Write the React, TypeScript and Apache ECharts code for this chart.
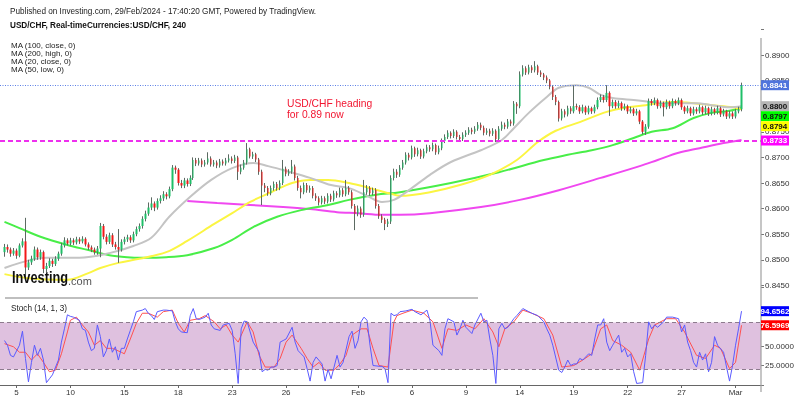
import React, { useEffect, useRef } from "react";
import * as echarts from "echarts";

// ---------- DATA (prices in 1/10000 units, i.e. 8515 = 0.8515) ----------
// 4h candles, first candle sits in slot 1 of the time axis
const candleOpen = [
  8515,8525,8520,8512,8518,8508,8528,8536,8485,8495,
  8502,8520,8505,8515,8482,8488,8498,8492,8502,8512,
  8528,8538,8532,8538,8534,8540,8536,8541,8530,8524,
  8520,8515,8522,8566,8545,8535,8548,8530,8525,8520,
  8535,8540,8544,8538,8550,8560,8566,8580,8590,8602,
  8610,8602,8615,8620,8628,8624,8638,8680,8676,8650,
  8645,8655,8648,8660,8695,8688,8694,8686,8690,8698,
  8686,8690,8684,8692,8688,8694,8698,8693,8700,8672,
  8680,8690,8716,8702,8706,8696,8672,8645,8640,8630,
  8640,8648,8640,8650,8678,8668,8672,8682,8660,8640,
  8632,8646,8636,8640,8625,8620,8612,8620,8614,8625,
  8618,8630,8626,8636,8628,8640,8632,8605,8590,8600,
  8588,8632,8640,8630,8636,8605,8585,8578,8570,8575,
  8660,8672,8666,8680,8690,8705,8700,8718,8706,8714,
  8702,8712,8720,8716,8724,8710,8718,8732,8740,8748,
  8742,8750,8740,8736,8744,8748,8754,8750,8756,8764,
  8758,8748,8752,8746,8752,8736,8756,8764,8760,8770,
  8766,8805,8800,8862,8874,8866,8876,8870,8878,8866,
  8862,8856,8850,8838,8818,8808,8776,8790,8784,8796,
  8790,8800,8798,8790,8798,8788,8796,8790,8798,8812,
  8818,8812,8826,8800,8808,8800,8806,8796,8800,8790,
  8794,8786,8790,8770,8750,8760,8810,8806,8812,8800,
  8806,8798,8808,8800,8810,8806,8812,8798,8790,8796,
  8786,8794,8790,8798,8788,8796,8786,8794,8788,8796,
  8784,8790,8780,8786,8780,8790,8794
];
const candleClose = [
  8525,8520,8512,8518,8508,8528,8536,8485,8495,8502,
  8520,8505,8515,8482,8488,8498,8492,8502,8512,8528,
  8538,8532,8538,8534,8540,8536,8541,8530,8524,8520,
  8515,8522,8566,8545,8535,8548,8530,8525,8520,8535,
  8540,8544,8538,8550,8560,8566,8580,8590,8602,8610,
  8602,8615,8620,8628,8624,8638,8680,8676,8650,8645,
  8655,8648,8660,8695,8688,8694,8686,8690,8698,8686,
  8690,8684,8692,8688,8694,8698,8693,8700,8672,8680,
  8690,8716,8702,8706,8696,8672,8645,8640,8630,8640,
  8648,8640,8650,8678,8668,8672,8682,8660,8640,8632,
  8646,8636,8640,8625,8620,8612,8620,8614,8625,8618,
  8630,8626,8636,8628,8640,8632,8605,8590,8600,8588,
  8632,8640,8630,8636,8605,8585,8578,8570,8575,8660,
  8672,8666,8680,8690,8705,8700,8718,8706,8714,8702,
  8712,8720,8716,8724,8710,8718,8732,8740,8748,8742,
  8750,8740,8736,8744,8748,8754,8750,8756,8764,8758,
  8748,8752,8746,8752,8736,8756,8764,8760,8770,8766,
  8805,8800,8862,8874,8866,8876,8870,8878,8866,8862,
  8856,8850,8838,8818,8808,8776,8790,8784,8796,8790,
  8800,8798,8790,8798,8788,8796,8790,8798,8812,8818,
  8812,8826,8800,8808,8800,8806,8796,8800,8790,8794,
  8786,8790,8770,8750,8760,8810,8806,8812,8800,8806,
  8798,8808,8800,8810,8806,8812,8798,8790,8796,8786,
  8794,8790,8798,8788,8796,8786,8794,8788,8796,8784,
  8790,8780,8786,8780,8790,8794,8841
];
const candleHigh = [
  8531,8530,8524,8523,8522,8532,8542,8582,8500,8508,
  8526,8524,8520,8518,8494,8503,8502,8507,8516,8533,
  8544,8542,8543,8542,8545,8544,8546,8544,8534,8528,
  8524,8527,8572,8570,8550,8553,8552,8535,8560,8540,
  8545,8549,8548,8555,8565,8571,8585,8596,8612,8622,
  8614,8620,8626,8634,8632,8643,8685,8684,8679,8656,
  8660,8659,8665,8700,8699,8699,8698,8695,8710,8702,
  8695,8694,8697,8696,8699,8706,8702,8705,8703,8686,
  8695,8728,8719,8711,8709,8699,8676,8650,8644,8645,
  8653,8652,8655,8695,8682,8677,8695,8686,8664,8645,
  8651,8650,8645,8644,8630,8624,8625,8624,8630,8629,
  8635,8634,8641,8640,8656,8644,8636,8609,8606,8604,
  8656,8646,8644,8641,8640,8609,8589,8582,8580,8665,
  8678,8677,8685,8695,8710,8709,8723,8721,8719,8717,
  8717,8725,8724,8729,8727,8723,8737,8745,8753,8751,
  8755,8753,8744,8749,8753,8759,8758,8761,8769,8768,
  8762,8757,8756,8757,8755,8761,8770,8768,8775,8774,
  8810,8808,8868,8880,8878,8881,8880,8888,8881,8870,
  8865,8860,8853,8841,8822,8811,8795,8794,8801,8800,
  8841,8805,8802,8803,8801,8801,8799,8803,8817,8823,
  8822,8841,8829,8813,8812,8811,8809,8805,8803,8799,
  8797,8795,8793,8773,8765,8815,8814,8817,8815,8811,
  8809,8813,8811,8815,8813,8817,8815,8801,8801,8799,
  8799,8798,8803,8801,8801,8799,8799,8797,8801,8799,
  8795,8793,8791,8790,8795,8799,8846
];
const candleLow = [
  8506,8514,8506,8508,8502,8505,8524,8465,8480,8490,
  8498,8500,8500,8474,8476,8484,8486,8488,8498,8508,
  8524,8528,8528,8529,8530,8531,8532,8526,8519,8515,
  8510,8510,8505,8540,8530,8531,8525,8520,8494,8516,
  8530,8535,8533,8534,8546,8555,8561,8575,8586,8597,
  8595,8598,8610,8615,8618,8620,8634,8668,8645,8640,
  8640,8643,8644,8656,8683,8684,8681,8682,8686,8682,
  8682,8679,8680,8684,8684,8690,8688,8689,8656,8667,
  8676,8686,8698,8697,8691,8666,8607,8632,8625,8626,
  8635,8635,8636,8646,8663,8664,8668,8655,8635,8620,
  8628,8631,8631,8620,8615,8606,8608,8609,8610,8613,
  8614,8621,8622,8623,8624,8627,8600,8558,8585,8582,
  8584,8627,8625,8626,8600,8580,8572,8558,8564,8570,
  8655,8660,8662,8676,8686,8694,8696,8701,8702,8697,
  8698,8708,8711,8712,8705,8706,8714,8728,8736,8737,
  8738,8735,8731,8732,8740,8744,8745,8746,8752,8753,
  8743,8744,8741,8742,8730,8732,8752,8755,8756,8761,
  8762,8785,8796,8858,8861,8862,8865,8866,8861,8857,
  8851,8845,8833,8812,8802,8770,8772,8778,8780,8785,
  8786,8793,8785,8786,8783,8784,8785,8786,8794,8808,
  8807,8808,8781,8796,8795,8796,8791,8792,8785,8786,
  8781,8782,8765,8745,8744,8756,8801,8802,8795,8796,
  8780,8794,8795,8796,8801,8802,8793,8785,8786,8781,
  8782,8785,8786,8783,8784,8781,8782,8783,8784,8779,
  8780,8775,8776,8775,8776,8786,8790
];

// moving averages: [slot, value x1e4]
const ma20Close = [[1,8484],[15,8504],[26,8504],[36,8513],[44,8527],[50,8543],[56,8584],[63,8623],[70,8656],[77,8679],[84,8689],[89,8683],[96,8672],[103,8660],[110,8646],[116,8640],[122,8625],[127,8613],[131,8617],[136,8636],[143,8666],[150,8691],[160,8714],[167,8734],[171,8757],[176,8787],[182,8818],[186,8836],[192,8841],[196,8836],[200,8822],[204,8816],[211,8812],[222,8806],[232,8806],[237,8802],[243,8798],[247,8800]];
const ma50Low = [[1,8472],[9,8464],[22,8461],[29,8474],[33,8484],[39,8494],[46,8502],[55,8515],[62,8537],[71,8570],[77,8591],[83,8613],[90,8632],[97,8650],[103,8656],[109,8656],[116,8650],[123,8640],[130,8629],[133,8625],[143,8632],[153,8646],[163,8666],[172,8695],[179,8730],[185,8752],[193,8769],[202,8789],[209,8798],[215,8802],[223,8808],[231,8806],[237,8802],[244,8798],[247,8794]];
const ma100Close = [[1,8574],[6,8562],[13,8545],[22,8529],[29,8519],[36,8509],[42,8505],[47,8504],[55,8505],[62,8509],[71,8523],[77,8539],[84,8564],[92,8584],[100,8597],[109,8607],[116,8617],[125,8627],[133,8632],[150,8650],[166,8671],[181,8695],[189,8705],[197,8714],[204,8724],[211,8738],[217,8750],[224,8757],[231,8777],[237,8787],[243,8791],[247,8797]];
const ma200High = [[62,8615],[72,8611],[83,8607],[94,8603],[103,8599],[112,8593],[119,8591],[127,8588],[133,8588],[143,8591],[160,8603],[173,8617],[186,8636],[200,8660],[213,8683],[219,8695],[226,8709],[233,8718],[241,8728],[247,8734]];

// Stochastic (14,1,3): [slot, value]
const stochK = [[1,57],[2,51],[3,38],[4,36],[6,51],[7,69],[8,34],[9,4],[10,29],[11,51],[12,38],[13,47],[14,32],[15,3],[16,8],[17,13],[19,32],[20,55],[21,72],[22,90],[23,88],[24,87],[26,83],[27,72],[28,70],[29,55],[30,44],[31,47],[32,77],[33,62],[34,36],[35,44],[36,59],[37,42],[38,49],[39,32],[40,47],[41,47],[42,59],[43,70],[44,81],[45,94],[47,96],[48,98],[49,92],[50,89],[51,84],[52,94],[54,96],[55,96],[57,95],[58,81],[59,72],[60,68],[62,67],[63,89],[64,98],[65,85],[66,84],[68,87],[69,92],[70,77],[71,72],[73,70],[74,77],[76,79],[77,70],[78,40],[79,2],[80,72],[81,82],[82,81],[83,68],[84,55],[86,42],[87,17],[88,20],[89,19],[90,23],[91,23],[92,25],[93,55],[94,57],[95,59],[97,74],[98,55],[99,44],[100,40],[101,36],[102,21],[103,5],[104,29],[105,36],[107,27],[108,5],[109,20],[110,8],[111,23],[112,38],[113,23],[114,29],[116,62],[117,69],[118,47],[119,57],[120,81],[121,87],[122,83],[123,51],[124,25],[126,24],[127,24],[128,21],[129,3],[130,92],[131,89],[132,90],[133,94],[135,95],[137,97],[138,94],[140,90],[142,96],[143,83],[144,51],[146,44],[147,38],[148,72],[149,85],[151,81],[152,64],[153,72],[154,83],[155,74],[157,66],[158,77],[160,92],[161,81],[162,83],[163,59],[164,38],[165,2],[166,72],[167,79],[168,72],[169,74],[171,85],[172,89],[174,98],[176,94],[177,92],[179,89],[181,81],[182,72],[183,64],[184,51],[186,19],[187,16],[188,23],[189,32],[190,25],[191,27],[192,27],[193,34],[194,32],[196,40],[197,38],[198,59],[199,77],[200,77],[201,85],[202,55],[203,44],[204,51],[206,64],[207,42],[208,47],[209,36],[210,40],[211,17],[212,2],[214,3],[215,38],[216,81],[217,72],[218,77],[219,74],[221,81],[222,87],[224,87],[226,85],[227,68],[228,77],[229,55],[230,44],[231,29],[232,23],[233,42],[234,32],[235,40],[236,17],[237,29],[238,62],[239,51],[241,42],[242,23],[243,5],[244,25],[245,51],[246,72],[247,94.6562]];
const stochD = [[1,53],[4,49],[6,42],[8,42],[10,32],[12,40],[14,29],[16,17],[18,19],[20,40],[22,68],[23,83],[25,87],[27,77],[29,68],[31,51],[33,57],[35,47],[37,47],[40,42],[41,40],[43,59],[45,79],[47,92],[49,92],[52,87],[54,94],[57,96],[59,79],[61,68],[63,83],[66,85],[68,89],[71,81],[73,72],[75,77],[77,64],[79,55],[82,81],[84,68],[86,38],[88,23],[91,23],[93,34],[95,55],[97,64],[100,47],[102,34],[104,23],[106,29],[108,19],[111,19],[113,27],[115,38],[117,64],[120,72],[122,72],[124,47],[126,25],[129,23],[131,81],[132,89],[134,92],[137,96],[141,92],[144,81],[147,47],[149,72],[152,70],[155,77],[158,72],[161,85],[164,68],[166,49],[168,72],[171,81],[174,96],[177,92],[181,85],[184,64],[187,23],[191,25],[194,32],[197,40],[200,72],[202,77],[204,57],[207,51],[210,42],[213,19],[216,59],[218,77],[222,85],[225,85],[228,68],[232,38],[235,34],[238,51],[240,47],[243,21],[245,29],[247,76.5969]];

const tickSlots = [5, 23, 41, 59, 77, 95, 119, 137, 155, 173, 191, 209, 227, 245];
const tickLabels = ["5", "10", "15", "18", "23", "26", "Feb", "6", "9", "14", "19", "22", "27", "Mar"];

const lastPrice = 0.8841;
const ma200Last = 0.8733;
const priceTagValues = [0.8841, 0.88, 0.8797, 0.8794, 0.8733];
const priceTagFills = ["#4f74dc", "#b5b5b5", "#00ff00", "#ffff00", "#ff00ff"];
const priceTagInk = ["#ffffff", "#111111", "#111111", "#111111", "#ffffff"];
const stochTagValues = [94.6562, 76.5969];
const stochTagFills = ["#0000ff", "#ff0000"];
// axis labels fully hidden behind value tags in the reference
const hiddenPriceLabels = [0.88];
const hiddenStochLabels = [75, 100];

const maLegend = ["MA (100, close, 0)", "MA (200, high, 0)", "MA (20, close, 0)", "MA (50, low, 0)"];

const SLOTS = 254;
const FIRST_SLOT = 1;
const FONT = '"Liberation Sans", Arial, sans-serif';

export default function App() {
  const ref = useRef<HTMLDivElement>(null);

  useEffect(() => {
    const chart = echarts.init(ref.current!, null, { renderer: "svg" });
    const slots = Array.from({ length: SLOTS }, (_, i) => String(i));
    const wick: any[] = [];
    const body: any[] = [];
    for (let s = 0; s < SLOTS; s++) {
      const k = s - FIRST_SLOT;
      if (k >= 0 && k < candleOpen.length) {
        const o = candleOpen[k] / 1e4, c = candleClose[k] / 1e4;
        const l = candleLow[k] / 1e4, h = candleHigh[k] / 1e4;
        wick.push([o, c, l, h]);
        body.push([o, c, Math.min(o, c), Math.max(o, c)]);
      } else {
        wick.push("-");
        body.push("-");
      }
    }
    const pip = (arr: number[][]) => arr.map(([i, v]) => [i, v / 1e4]);
    const tickSet = new Set(tickSlots);
    const labelOf: Record<number, string> = {};
    tickSlots.forEach((s, i) => (labelOf[s] = tickLabels[i]));

    const maLine = (data: number[][], color: string) => ({
      type: "line", xAxisIndex: 0, yAxisIndex: 0, data: pip(data), showSymbol: false,
      smooth: 0.35, silent: true, z: 2, lineStyle: { color, width: 2 },
    });

    const upC = "#1fbf68", downC = "#f21818", wickC = "#5c6a62";

    chart.setOption({
      animation: false,
      grid: [
        { left: 0, top: 29.4, width: 761, height: 281.6, containLabel: false, outerBoundsMode: "none" },
        { left: 0, top: 287.5, width: 761, height: 97.5, containLabel: false, outerBoundsMode: "none" },
      ],
      xAxis: [
        { type: "category", gridIndex: 0, data: slots, show: false },
        {
          type: "category", gridIndex: 1, data: slots,
          axisLine: { show: true, lineStyle: { color: "#666", width: 1 } },
          axisTick: { show: true, alignWithLabel: true, length: 3, interval: (i: number) => tickSet.has(i), lineStyle: { color: "#666" } },
          axisLabel: {
            interval: (i: number) => tickSet.has(i), formatter: (_v: string, i: number) => labelOf[i] || "",
            color: "#333", fontSize: 8, fontFamily: FONT, margin: 3,
          },
          splitLine: { show: false },
        },
      ],
      yAxis: [
        {
          type: "value", gridIndex: 0, position: "right", min: 0.84, max: 0.895, interval: 0.005,
          axisLine: { show: false }, splitLine: { show: false },
          axisTick: { show: true, length: 3, lineStyle: { color: "#777" } },
          axisLabel: {
            color: "#333", fontSize: 8, fontFamily: FONT, margin: 4,
            formatter: (v: number) => {
              const r = Math.round(v * 1e4) / 1e4;
              if (hiddenPriceLabels.some((h) => Math.abs(h - r) < 1e-6)) return "";
              return r < 0.8449 || r > 0.8901 ? "" : r.toFixed(4);
            },
          },
        },
        {
          type: "value", gridIndex: 1, position: "right", min: 0, max: 125, interval: 25,
          axisLine: { show: false }, splitLine: { show: false },
          axisTick: { show: true, length: 3, lineStyle: { color: "#777" } },
          axisLabel: {
            color: "#333", fontSize: 8, fontFamily: FONT, margin: 4,
            formatter: (v: number) => (v > 0 && v < 125 && !hiddenStochLabels.includes(v) ? v.toFixed(4) : ""),
          },
        },
      ],
      series: [
        {
          type: "line", xAxisIndex: 0, yAxisIndex: 0, data: [], silent: true, z: 1,
          markLine: {
            silent: true, symbol: "none", precision: 4, label: { show: false },
            data: [
              { yAxis: lastPrice, lineStyle: { color: "#5b7fe6", width: 1, type: [1, 1.5] } },
              { yAxis: ma200Last, lineStyle: { color: "#ee30ee", width: 2, type: [5, 3] } },
            ],
          },
        },
        maLine(ma200High, "#f048f0"),
        maLine(ma100Close, "#48ee48"),
        maLine(ma50Low, "#fbf542"),
        maLine(ma20Close, "#c4c4c4"),
        {
          type: "candlestick", xAxisIndex: 0, yAxisIndex: 0, data: wick, barWidth: 1, silent: true, z: 3,
          itemStyle: { color: wickC, color0: wickC, borderColor: wickC, borderColor0: wickC, borderColorDoji: wickC, borderWidth: 1 },
        },
        {
          type: "candlestick", xAxisIndex: 0, yAxisIndex: 0, data: body, barWidth: 2, silent: true, z: 4,
          itemStyle: { color: upC, color0: downC, borderColor: upC, borderColor0: downC, borderColorDoji: wickC, borderWidth: 0 },
        },
        {
          type: "line", xAxisIndex: 1, yAxisIndex: 1, data: [], silent: true, z: 1,
          markArea: { silent: true, itemStyle: { color: "#dfc1df" }, data: [[{ yAxis: 20 }, { yAxis: 80 }]] },
          markLine: {
            silent: true, symbol: "none", precision: 4, label: { show: false },
            lineStyle: { color: "#8d7b8d", width: 1, type: [4, 3] },
            data: [{ yAxis: 20 }, { yAxis: 80 }],
          },
        },
        {
          type: "line", xAxisIndex: 1, yAxisIndex: 1, data: stochD, showSymbol: false, silent: true, z: 3,
          lineStyle: { color: "#ff5050", width: 1 },
        },
        {
          type: "line", xAxisIndex: 1, yAxisIndex: 1, data: stochK, showSymbol: false, silent: true, z: 4,
          lineStyle: { color: "#5a5aff", width: 1 },
        },
      ],
    });

    const text = (x: number, y: number, t: string, font: string, fill: string, extra: any = {}) => ({
      type: "text", x, y, silent: true, z: 100, ...extra,
      style: { text: t, font, fill },
    });
    const g: any[] = [];
    g.push(text(10, 7, "Published on Investing.com, 29/Feb/2024 - 17:40:20 GMT, Powered by TradingView.", `8.2px ${FONT}`, "#222"));
    g.push(text(10, 21, "USD/CHF, Real-timeCurrencies:USD/CHF, 240", `bold 8.2px ${FONT}`, "#111"));
    maLegend.forEach((t, i) => g.push(text(11, 41 + i * 8.3, t, `8px ${FONT}`, "#222")));
    g.push(text(287, 98, "USD/CHF heading", `10.3px ${FONT}`, "#f21530"));
    g.push(text(287, 109, "for 0.89 now", `10.3px ${FONT}`, "#f21530"));
    g.push(text(12, 269, "Investing", `bold 16px ${FONT}`, "#111", { scaleX: 0.8 }));
    g.push(text(68, 275, ".com", `11px ${FONT}`, "#555"));
    g.push(text(11, 304, "Stoch (14, 1, 3)", `8.2px ${FONT}`, "#222"));
    g.push({ type: "line", silent: true, z: 90, shape: { x1: 5, y1: 298, x2: 478, y2: 298 }, style: { stroke: "#808080", lineWidth: 1.2 } });
    g.push({ type: "line", silent: true, z: 90, shape: { x1: 761, y1: 38, x2: 761, y2: 392 }, style: { stroke: "#a0a0a0", lineWidth: 1.2 } });

    const tags = (values: number[], fills: string[], ink: string[], axis: number) => {
      const items = values.map((v, i) => ({
        v, i, y: (chart.convertToPixel({ yAxisIndex: axis } as any, v) as unknown) as number,
      }));
      items.sort((a, b) => a.y - b.y);
      let prev = -1e9;
      items.forEach((it) => {
        const y = Math.max(it.y, prev + 10);
        prev = y;
        g.push({ type: "rect", silent: true, z: 110, shape: { x: 761, y: y - 5, width: 28, height: 10 }, style: { fill: fills[it.i] } });
        g.push({
          type: "text", silent: true, z: 111, x: 775, y,
          style: {
            text: it.v.toFixed(4), font: `bold 8px ${FONT}`, fill: ink[it.i],
            align: "center", verticalAlign: "middle", textAlign: "center", textVerticalAlign: "middle",
          },
        });
      });
    };
    tags(priceTagValues, priceTagFills, priceTagInk, 0);
    tags(stochTagValues, stochTagFills, ["#ffffff", "#ffffff"], 1);

    chart.setOption({ graphic: g });
    return () => chart.dispose();
  }, []);

  return <div ref={ref} style={{ position: "fixed", left: 0, top: 0, width: 800, height: 399 }} />;
}
